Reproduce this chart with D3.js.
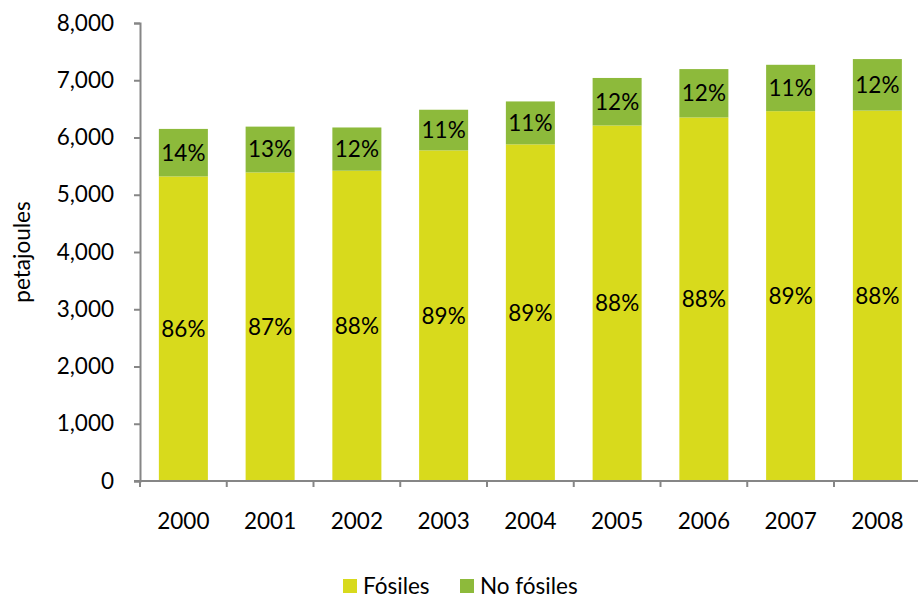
<!DOCTYPE html>
<html>
<head>
  <meta charset="utf-8">
  <title>Fósiles vs no fósiles</title>
  <script src="https://d3js.org/d3.v7.min.js"></script>
  <style>
    body { margin: 0; background: #fff; }
    svg text { font-family: Lato, "Open Sans", sans-serif; fill: #000; }
  </style>
</head>
<body>
  <svg width="918" height="598"></svg>
  <script>
// data (petajoules)
const years = ['2000', '2001', '2002', '2003', '2004', '2005', '2006', '2007', '2008'];
const fosiles = [5320, 5390, 5420, 5775, 5880, 6210, 6350, 6460, 6470];
const noFosiles = [830, 800, 755, 710, 750, 830, 845, 810, 900];
const fosilesPct = ['86%', '87%', '88%', '89%', '89%', '88%', '88%', '89%', '88%'];
const noFosilesPct = ['14%', '13%', '12%', '11%', '11%', '12%', '12%', '11%', '12%'];
const yTicks = [0, 1000, 2000, 3000, 4000, 5000, 6000, 7000, 8000];

const colFos = '#d8da1c';
const colNo = '#8dba3b';
const axisCol = '#868686';
const fs = '22.5px';

const svg = d3.select('svg');
const margin = { top: 23, left: 140, bottom: 481 };

const x = d3.scaleBand()
  .domain(years)
  .range([margin.left, margin.left + 9 * 86.75])
  .paddingInner(0.435)
  .paddingOuter(0.2175);

const y = d3.scaleLinear()
  .domain([0, 8000])
  .range([margin.bottom, margin.top]);

// y axis
const yAxis = svg.append('g')
  .attr('transform', `translate(${margin.left},0)`)
  .call(d3.axisLeft(y).tickValues(yTicks).tickSize(6).tickPadding(20)
    .tickFormat(d3.format(',')));
yAxis.select('.domain').attr('stroke', axisCol).attr('stroke-width', 2);
yAxis.selectAll('.tick line').attr('stroke', axisCol).attr('stroke-width', 2);
yAxis.selectAll('.tick text').style('font-size', fs);

// bars
const rows = years.map((yr, i) => ({ yr, f: fosiles[i], n: noFosiles[i], fp: fosilesPct[i], np: noFosilesPct[i] }));
const g = svg.append('g');

g.selectAll('.fos').data(rows).join('rect')
  .attr('x', d => x(d.yr))
  .attr('width', x.bandwidth())
  .attr('y', d => y(d.f))
  .attr('height', d => y(0) - y(d.f))
  .attr('fill', colFos);

g.selectAll('.nof').data(rows).join('rect')
  .attr('x', d => x(d.yr))
  .attr('width', x.bandwidth())
  .attr('y', d => y(d.f + d.n))
  .attr('height', d => y(d.f) - y(d.f + d.n))
  .attr('fill', colNo);

g.selectAll('.lf').data(rows).join('text')
  .attr('x', d => x(d.yr) + x.bandwidth() / 2)
  .attr('y', d => (y(0) + y(d.f)) / 2)
  .attr('dy', '0.35em')
  .attr('text-anchor', 'middle')
  .style('font-size', fs)
  .text(d => d.fp);

g.selectAll('.ln').data(rows).join('text')
  .attr('x', d => x(d.yr) + x.bandwidth() / 2)
  .attr('y', d => (y(d.f) + y(d.f + d.n)) / 2)
  .attr('dy', '0.35em')
  .attr('text-anchor', 'middle')
  .style('font-size', fs)
  .text(d => d.np);

// x axis
const xg = svg.append('g').attr('transform', `translate(0,${margin.bottom})`);
xg.append('line')
  .attr('x1', margin.left - 6).attr('x2', 918)
  .attr('stroke', axisCol).attr('stroke-width', 2);
xg.selectAll('.tk').data(years.concat(['end'])).join('line')
  .attr('x1', (d, i) => margin.left + i * x.step())
  .attr('x2', (d, i) => margin.left + i * x.step())
  .attr('y1', 0).attr('y2', 6)
  .attr('stroke', axisCol).attr('stroke-width', 2);
xg.selectAll('text').data(years).join('text')
  .attr('x', d => x(d) + x.bandwidth() / 2)
  .attr('y', 48)
  .attr('text-anchor', 'middle')
  .style('font-size', fs)
  .text(d => d);

// y axis title
svg.append('text')
  .attr('transform', 'translate(30,252) rotate(-90)')
  .attr('text-anchor', 'middle')
  .style('font-size', fs)
  .text('petajoules');

// legend
const legend = [{ name: 'Fósiles', c: colFos, x: 343 }, { name: 'No fósiles', c: colNo, x: 460 }];
const lg = svg.selectAll('.lg').data(legend).join('g')
  .attr('transform', d => `translate(${d.x},579)`);
lg.append('rect').attr('width', 14).attr('height', 14).attr('fill', d => d.c);
lg.append('text').attr('x', 20).attr('y', 7).attr('dy', '0.35em')
  .style('font-size', fs).text(d => d.name);
  </script>
</body>
</html>
